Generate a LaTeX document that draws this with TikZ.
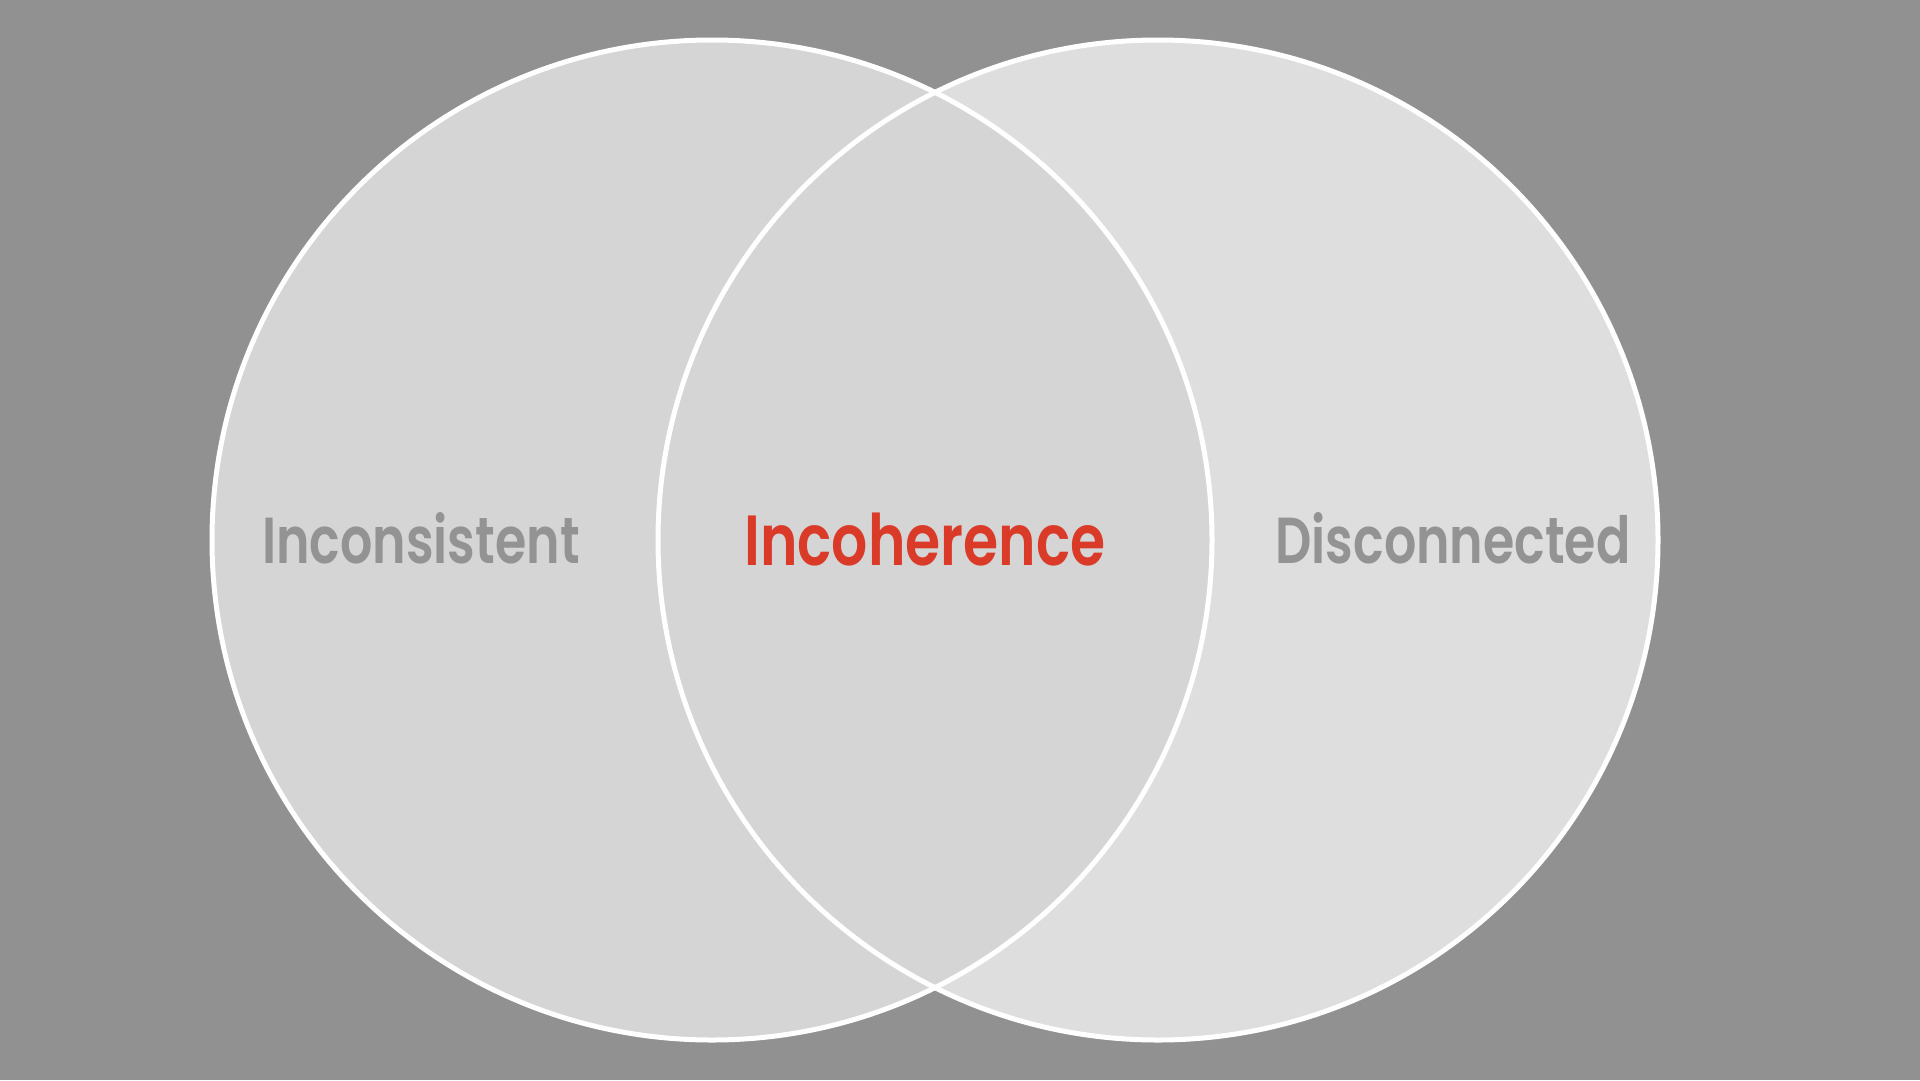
\documentclass[tikz,border=0pt]{standalone}
\usepackage{fontspec}
\setmainfont{Poppins SemiBold}
\definecolor{bg}{HTML}{919191}
\definecolor{leftfill}{HTML}{D5D5D5}
\definecolor{rightfill}{HTML}{DEDEDE}
\definecolor{labelgray}{HTML}{939393}
\definecolor{accent}{HTML}{DA3A28}
\begin{document}
\begin{tikzpicture}[x=1pt,y=-1pt,
  ring/.style={draw=white,line width=5pt},
  sidelabel/.style={text=labelgray,font=\fontsize{65}{65}\selectfont,inner sep=0pt,anchor=base,xscale=0.78},
  midlabel/.style={text=accent,font=\fontsize{71}{71}\selectfont,inner sep=0pt,anchor=base,xscale=0.8}]
  % canvas
  \fill[bg] (0,0) rectangle (1920,1080);
  \useasboundingbox (0,0) rectangle (1920,1080);
  % circles: right one underneath, left one over it
  \coordinate (lc) at (712,540);
  \coordinate (rc) at (1158,540);
  \fill[rightfill] (rc) circle[radius=500];
  \fill[leftfill] (lc) circle[radius=500];
  \draw[ring] (rc) circle[radius=500];
  \draw[ring] (lc) circle[radius=500];
  % labels
  \node[sidelabel] (inc) at (421,563) {Inconsistent};
  \node[midlabel] (coh) at (925,565) {Incoherence};
  \node[sidelabel] (dis) at (1453,563) {Disconnected};
\end{tikzpicture}
\end{document}
